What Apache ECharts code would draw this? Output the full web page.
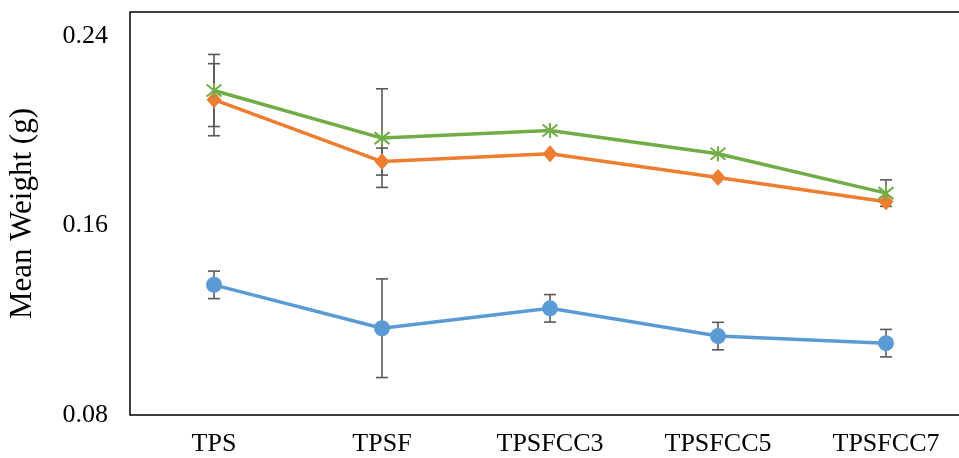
<!DOCTYPE html>
<html>
<head>
<meta charset="utf-8">
<script src="https://cdn.jsdelivr.net/npm/echarts@6/dist/echarts.min.js"></script>
<style>
  html, body { margin: 0; padding: 0; background: #fff; }
  #chart { width: 959px; height: 458px; }
</style>
</head>
<body>
<div id="chart"></div>
<script>
// Mean weight per formulation, with error bar half-widths (0 = no bar drawn)
const categories = ['TPS', 'TPSF', 'TPSFCC3', 'TPSFCC5', 'TPSFCC7'];
const blueMeans = [0.1349, 0.1166, 0.1250, 0.1133, 0.1103];
const blueErr = [0.0058, 0.0208, 0.0058, 0.0058, 0.0058];
const orangeMeans = [0.2130, 0.1869, 0.1902, 0.1802, 0.1700];
const orangeErr = [0.0152, 0.0057, 0, 0, 0];
const greenMeans = [0.2169, 0.1968, 0.2000, 0.1902, 0.1736];
const greenErr = [0.0152, 0.0208, 0, 0, 0.0056];
const yTicks = { min: 0.08, max: 0.25, interval: 0.08 };

const FONT = '"Liberation Serif", "Times New Roman", serif';
const BAR_COLOR = '#595959';

function errorData(means, errs) {
  const out = [];
  means.forEach((m, i) => {
    if (errs[i] > 0) out.push([i, m - errs[i], m + errs[i]]);
  });
  return out;
}

function errorSeries(means, errs) {
  return {
    type: 'custom',
    z: 1,
    silent: true,
    data: errorData(means, errs),
    renderItem: function (params, api) {
      const x = api.value(0);
      const lo = api.coord([x, api.value(1)]);
      const hi = api.coord([x, api.value(2)]);
      const half = 6;
      const style = { stroke: BAR_COLOR, lineWidth: 1.6 };
      return {
        type: 'group',
        children: [
          { type: 'line', shape: { x1: hi[0], y1: hi[1], x2: lo[0], y2: lo[1] }, style: style },
          { type: 'line', shape: { x1: hi[0] - half, y1: hi[1], x2: hi[0] + half, y2: hi[1] }, style: style },
          { type: 'line', shape: { x1: lo[0] - half, y1: lo[1], x2: lo[0] + half, y2: lo[1] }, style: style }
        ]
      };
    }
  };
}

const chart = echarts.init(document.getElementById('chart'), null, { renderer: 'canvas' });

chart.setOption({
  animation: false,
  backgroundColor: '#ffffff',
  grid: {
    left: 130, width: 840, top: 12, bottom: 43,
    outerBoundsMode: 'none',
    containLabel: false,
    show: true, borderColor: '#000000', borderWidth: 1.5, backgroundColor: 'transparent'
  },
  xAxis: {
    type: 'category',
    data: categories,
    boundaryGap: true,
    axisLine: { show: false },
    axisTick: { show: false },
    axisLabel: { color: '#000', fontFamily: FONT, fontSize: 26, margin: 16 }
  },
  yAxis: {
    type: 'value',
    min: yTicks.min,
    max: yTicks.max,
    interval: yTicks.interval,
    name: 'Mean Weight (g)',
    nameLocation: 'middle',
    nameGap: 92,
    nameTextStyle: { color: '#000', fontFamily: FONT, fontSize: 31 },
    axisLine: { show: false },
    axisTick: { show: false },
    splitLine: { show: false },
    axisLabel: {
      color: '#000', fontFamily: FONT, fontSize: 26, margin: 22,
      showMaxLabel: false,
      formatter: v => v.toFixed(2)
    }
  },
  series: [
    errorSeries(blueMeans, blueErr),
    errorSeries(orangeMeans, orangeErr),
    errorSeries(greenMeans, greenErr),
    {
      name: 'Series 1', type: 'line', z: 3, data: blueMeans,
      symbol: 'circle', symbolSize: 16,
      lineStyle: { color: '#5B9BD5', width: 3.5 },
      itemStyle: { color: '#5B9BD5' }
    },
    {
      name: 'Series 2', type: 'line', z: 3, data: orangeMeans,
      symbol: 'diamond', symbolSize: [15, 17],
      lineStyle: { color: '#ED7D31', width: 3.5 },
      itemStyle: { color: '#ED7D31' }
    },
    {
      name: 'Series 3', type: 'line', z: 3, data: greenMeans,
      symbol: 'path://M1,1L9,9M9,1L1,9M5,0L5,10', symbolSize: 15,
      lineStyle: { color: '#70AD47', width: 3.5 },
      itemStyle: { color: 'none', borderColor: '#70AD47', borderWidth: 2 }
    }
  ]
});
</script>
</body>
</html>
